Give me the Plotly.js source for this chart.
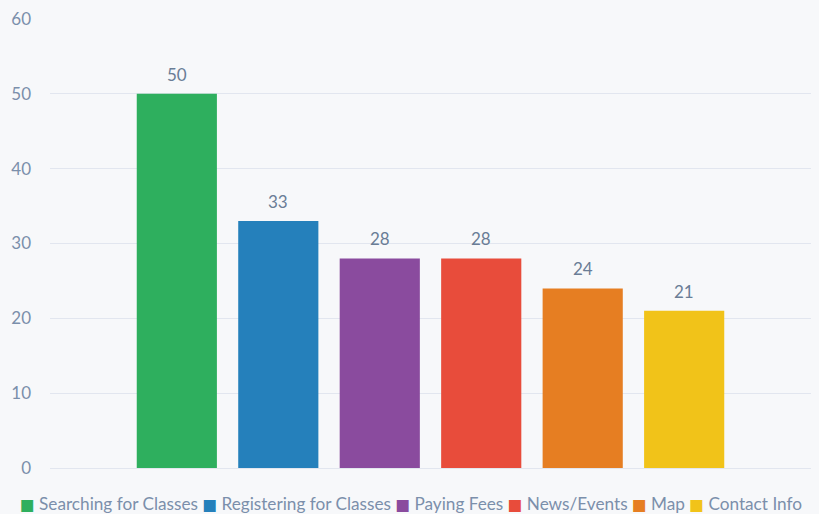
<!DOCTYPE html>
<html>
<head>
<meta charset="utf-8">
<script src="https://cdn.plot.ly/plotly-3.0.1.min.js"></script>
<style>html,body{margin:0;padding:0;background:#f7f8fa;}</style>
</head>
<body>
<div id="chart" style="width:819px;height:514px;"></div>
<script>
const categories = ["Searching for Classes", "Registering for Classes", "Paying Fees", "News/Events", "Map", "Contact Info"];
const values = [50, 33, 28, 28, 24, 21];
const colors = ["#2eaf5e", "#2580bb", "#8a4b9e", "#e84c3b", "#e67e22", "#f1c319"];
const yTicks = [0, 10, 20, 30, 40, 50, 60];

const FONT = "Lato, 'Open Sans', sans-serif";
const traces = categories.map((c, i) => ({
  type: "bar",
  name: c,
  x: [c],
  y: [values[i]],
  width: 0.79,
  marker: {color: colors[i]},
  hoverinfo: "name+y"
}));

const valueLabels = categories.map((c, i) => ({
  x: c, y: values[i], xref: "x", yref: "y",
  text: String(values[i]),
  showarrow: false,
  yanchor: "bottom",
  yshift: 7,
  font: {family: FONT, size: 17, color: "#6a7d96"}
}));

const legendText = categories.map((c, i) =>
  '<span style="color:' + colors[i] + ';font-size:15.5px;font-family:DejaVu Sans">\u25A0</span> ' + c
).join(' ');

const legendAnn = {
  xref: "paper", yref: "paper",
  x: 0.474, y: -0.08, xanchor: "center", yanchor: "middle",
  text: legendText,
  showarrow: false,
  font: {family: FONT, size: 17.2, color: "#7b8fab"}
};

const layout = {
  width: 819, height: 514,
  paper_bgcolor: "#f7f8fa",
  plot_bgcolor: "#f7f8fa",
  margin: {l: 50, r: 8, t: 19, b: 46},
  barmode: "overlay",
  showlegend: false,
  font: {family: FONT, color: "#7b8fab", size: 16},
  xaxis: {
    type: "category",
    categoryarray: categories,
    range: [-1.25, 6.25],
    showticklabels: false,
    showgrid: false,
    zeroline: false,
    showline: false,
    ticks: ""
  },
  yaxis: {
    range: [0, 60],
    tickvals: yTicks,
    ticktext: yTicks.map(String),
    showgrid: true,
    gridcolor: "#e2e6ef",
    gridwidth: 1,
    zeroline: true,
    zerolinecolor: "#e2e6ef",
    zerolinewidth: 1,
    showline: false,
    ticks: "",
    ticklabelstandoff: 18,
    tickfont: {family: FONT, size: 17, color: "#7b8fab"}
  },
  annotations: valueLabels.concat([legendAnn])
};

Plotly.newPlot("chart", traces, layout, {displayModeBar: false, staticPlot: true});
</script>
</body>
</html>
